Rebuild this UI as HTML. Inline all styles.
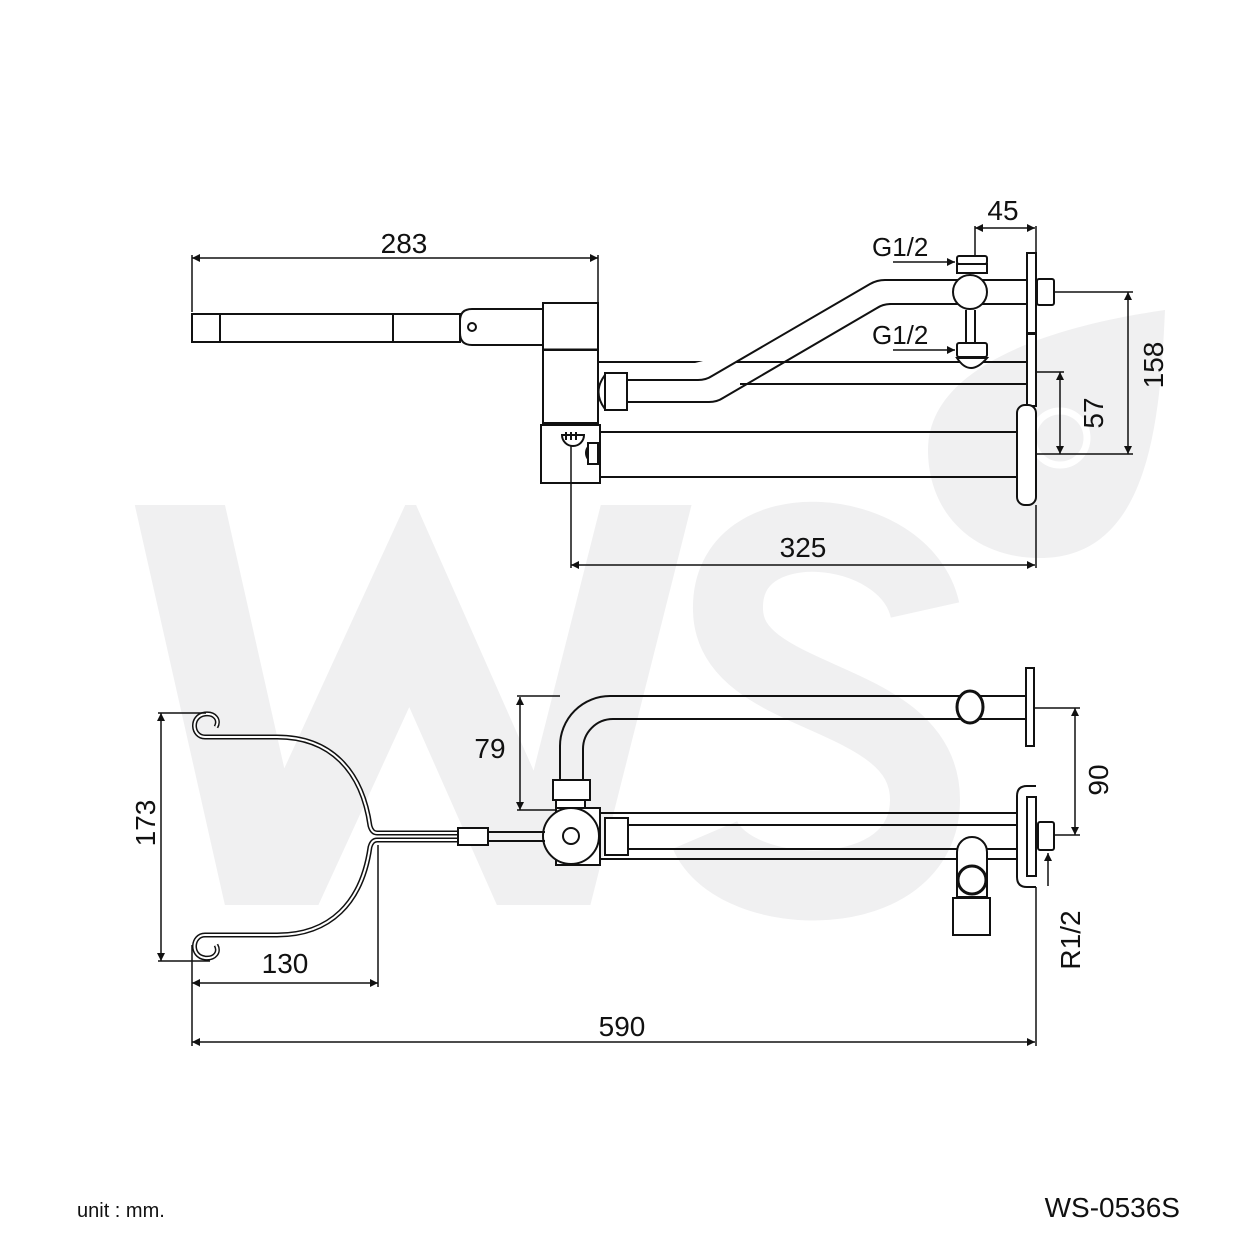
<!DOCTYPE html>
<html><head><meta charset="utf-8"><style>
html,body{margin:0;padding:0;background:#fff}
svg{display:block}
text{font-family:"Liberation Sans",sans-serif;fill:#111}
</style></head><body>
<svg width="1248" height="1248" viewBox="0 0 1248 1248" xmlns="http://www.w3.org/2000/svg">
<defs>
<marker id="a" viewBox="0 0 10 10" refX="10" refY="5" markerWidth="14" markerHeight="8" markerUnits="userSpaceOnUse" orient="auto-start-reverse"><path d="M0,0L10,5L0,10Z" fill="#111"/></marker>
<clipPath id="wc"><rect x="100" y="505" width="640" height="400"/></clipPath>
</defs>
<!-- watermark -->
<g fill="none" stroke="#f0f0f1">
<polyline clip-path="url(#wc)" points="172,470 270,905 410,600 545,905 655,470" stroke-width="88" stroke-linejoin="miter"/>
<path d="M925,610 C905,520 725,505 728,610 C730,705 925,690 925,800 C925,910 735,905 705,835" stroke-width="70"/>
</g>
<path d="M1165,310 C1160,420 1150,558 1040,558 C972,558 928,512 928,450 C928,370 1040,328 1165,310 Z" fill="#f0f0f1"/>
<circle cx="1060" cy="438" r="27" fill="none" stroke="#fff" stroke-width="7"/>

<g fill="none" stroke="#111" stroke-width="2">
<!-- TOP VIEW -->
<rect x="192" y="314" width="268" height="28" fill="#fff"/>
<line x1="220" y1="314" x2="220" y2="342"/><line x1="393" y1="314" x2="393" y2="342"/>
<path d="M543,309 L472,309 Q460,309 460,321 L460,333 Q460,345 472,345 L543,345" fill="#fff"/>
<circle cx="472" cy="327" r="4"/>
<rect x="543" y="303" width="55" height="47" fill="#fff"/>
<line x1="543" y1="350" x2="598" y2="350" stroke-width="3"/>
<rect x="543" y="350" width="55" height="73" fill="#fff"/>
<rect x="541" y="425" width="59" height="58" fill="#fff"/>
<line x1="543" y1="424" x2="598" y2="424" stroke-width="3"/>
<line x1="598" y1="362" x2="1027" y2="362"/>
<line x1="740" y1="384" x2="1027" y2="384"/>
<line x1="600" y1="432" x2="1017" y2="432"/>
<line x1="600" y1="477" x2="1017" y2="477"/>
<path d="M627,380 L698,380 Q706,380 712,376 L870,284 Q877,280 885,280 L1027,280" fill="#fff"/>
<path d="M627,402 L709,402 Q717,402 723,398 L877,308 Q883,304 891,304 L1027,304"/>
<path d="M605,375 Q592,392 605,409"/>
<rect x="605" y="373" width="22" height="37" fill="#fff"/>
<path d="M562,435 h22 a11,11 0 0 1 -22,0z" fill="#fff"/>
<line x1="566" y1="432" x2="566" y2="440"/><line x1="571" y1="432" x2="571" y2="440"/><line x1="576" y1="432" x2="576" y2="440"/>
<path d="M596,443 a10,10 0 0 0 0,20" fill="#fff"/><rect x="588" y="443" width="10" height="21" fill="#fff"/>
<line x1="571" y1="446" x2="571" y2="568" stroke-width="1.5"/>
<!-- valve -->
<rect x="957" y="256" width="30" height="8" rx="2"/>
<rect x="957" y="264" width="30" height="9"/>
<line x1="966" y1="310" x2="966" y2="345"/><line x1="975" y1="310" x2="975" y2="345"/>
<circle cx="970" cy="292" r="17" fill="#fff"/>
<rect x="957" y="343" width="30" height="14" rx="2" fill="#fff"/>
<path d="M957,358 Q970,378 987,358Z" fill="#fff"/>
<!-- wall -->
<rect x="1027" y="253" width="9" height="80" fill="#fff"/>
<rect x="1027" y="334" width="9" height="72" fill="#fff"/>
<rect x="1017" y="405" width="19" height="100" rx="8" fill="#fff"/>
<rect x="1037" y="279" width="17" height="26" rx="2" fill="#fff"/>
</g>
<g stroke="#111" stroke-width="1.5" fill="none">
<line x1="192" y1="258" x2="598" y2="258" marker-start="url(#a)" marker-end="url(#a)"/>
<line x1="192" y1="255" x2="192" y2="312"/><line x1="598" y1="255" x2="598" y2="302"/>
<line x1="975" y1="228" x2="1035" y2="228" marker-start="url(#a)" marker-end="url(#a)"/>
<line x1="975" y1="226" x2="975" y2="256"/><line x1="1036" y1="226" x2="1036" y2="253"/>
<line x1="893" y1="262" x2="955" y2="262" marker-end="url(#a)"/>
<line x1="893" y1="350" x2="955" y2="350" marker-end="url(#a)"/>
<line x1="1054" y1="292" x2="1133" y2="292"/><line x1="1037" y1="454" x2="1133" y2="454"/>
<line x1="1128" y1="292" x2="1128" y2="454" marker-start="url(#a)" marker-end="url(#a)"/>
<line x1="1037" y1="372" x2="1064" y2="372"/>
<line x1="1060" y1="372" x2="1060" y2="454" marker-start="url(#a)" marker-end="url(#a)"/>
<line x1="571" y1="565" x2="1035" y2="565" marker-start="url(#a)" marker-end="url(#a)"/>
<line x1="1036" y1="505" x2="1036" y2="568"/>
</g>
<text x="404" y="253" font-size="28" text-anchor="middle">283</text>
<text x="1003" y="220" font-size="28" text-anchor="middle">45</text>
<text x="872" y="256" font-size="26">G1/2</text>
<text x="872" y="344" font-size="26">G1/2</text>
<text transform="translate(1163,365) rotate(-90)" font-size="28" text-anchor="middle">158</text>
<text transform="translate(1103,413) rotate(-90)" font-size="28" text-anchor="middle">57</text>
<text x="803" y="557" font-size="28" text-anchor="middle">325</text>

<!-- BOTTOM VIEW -->
<g fill="none" stroke="#111" stroke-width="2">
<path d="M560,780 L560,746 A50,50 0 0 1 610,696 L1027,696"/>
<path d="M583,780 L583,749 A30,30 0 0 1 613,719 L1027,719"/>
<ellipse cx="970" cy="707" rx="13" ry="16" stroke-width="3" fill="#fff"/>
<rect x="1026" y="668" width="8" height="78" fill="#fff"/>
<line x1="600" y1="813" x2="1017" y2="813"/>
<line x1="628" y1="825" x2="1027" y2="825"/>
<line x1="628" y1="849" x2="1027" y2="849"/>
<line x1="600" y1="859" x2="1017" y2="859"/>
<rect x="553" y="780" width="37" height="20" fill="#fff"/>
<rect x="556" y="800" width="29" height="12" fill="#fff"/>
<rect x="556" y="808" width="44" height="57" fill="#fff"/>
<circle cx="571" cy="836" r="28" fill="#fff"/>
<circle cx="571" cy="836" r="8"/>
<rect x="605" y="818" width="23" height="37" fill="#fff"/>
<line x1="488" y1="832" x2="545" y2="832"/><line x1="488" y1="841" x2="545" y2="841"/>
<path d="M1036,786 L1027,786 Q1017,786 1017,796 L1017,877 Q1017,887 1027,887 L1036,887" fill="#fff"/>
<rect x="1027" y="797" width="9" height="79" fill="#fff"/>
<rect x="1038" y="822" width="16" height="28" rx="2" fill="#fff"/>
<path d="M957,852 A15,15 0 0 1 987,852 L987,897 L957,897Z" fill="#fff"/>
<circle cx="972" cy="880" r="14" stroke-width="3" fill="#fff"/>
<rect x="953" y="898" width="37" height="37" fill="#fff"/>
</g>
<!-- hook -->
<g fill="none">
<path d="M458,833 L377,833 Q372,833 370,826 C362,770 330,737 277,737 L205,737 C192,737 190,716 205,714 C215,713 220,720 216,727 M458,840 L377,840 Q372,840 370,847 C362,903 330,935 277,935 L205,935 C192,935 190,956 205,958 C215,959 220,952 216,945" stroke="#111" stroke-width="5"/>
<path d="M458,833 L377,833 Q372,833 370,826 C362,770 330,737 277,737 L205,737 C192,737 190,716 205,714 C215,713 220,720 216,727 M458,840 L377,840 Q372,840 370,847 C362,903 330,935 277,935 L205,935 C192,935 190,956 205,958 C215,959 220,952 216,945" stroke="#fff" stroke-width="2"/>
</g>
<rect x="458" y="828" width="30" height="17" fill="#fff" stroke="#111" stroke-width="2"/>
<g stroke="#111" stroke-width="1.5" fill="none">
<line x1="161" y1="713" x2="161" y2="961" marker-start="url(#a)" marker-end="url(#a)"/>
<line x1="158" y1="713" x2="206" y2="713"/><line x1="158" y1="961" x2="210" y2="961"/>
<line x1="192" y1="983" x2="378" y2="983" marker-start="url(#a)" marker-end="url(#a)"/>
<line x1="192" y1="945" x2="192" y2="1046"/><line x1="378" y1="845" x2="378" y2="987"/>
<line x1="192" y1="1042" x2="1035" y2="1042" marker-start="url(#a)" marker-end="url(#a)"/>
<line x1="1036" y1="887" x2="1036" y2="1046"/>
<line x1="520" y1="697" x2="520" y2="810" marker-start="url(#a)" marker-end="url(#a)"/>
<line x1="517" y1="696" x2="560" y2="696"/><line x1="517" y1="810" x2="556" y2="810"/>
<line x1="1075" y1="708" x2="1075" y2="835" marker-start="url(#a)" marker-end="url(#a)"/>
<line x1="1034" y1="708" x2="1080" y2="708"/><line x1="1054" y1="835" x2="1080" y2="835"/>
<line x1="1048" y1="886" x2="1048" y2="853" marker-end="url(#a)"/>
</g>
<text transform="translate(155,823) rotate(-90)" font-size="28" text-anchor="middle">173</text>
<text x="285" y="973" font-size="28" text-anchor="middle">130</text>
<text x="622" y="1036" font-size="28" text-anchor="middle">590</text>
<text x="490" y="758" font-size="28" text-anchor="middle">79</text>
<text transform="translate(1108,780) rotate(-90)" font-size="28" text-anchor="middle">90</text>
<text transform="translate(1080,940) rotate(-90)" font-size="28" text-anchor="middle">R1/2</text>

<text x="77" y="1217" font-size="20">unit : mm.</text>
<text x="1180" y="1217" font-size="28" text-anchor="end">WS-0536S</text>
</svg>
</body></html>
